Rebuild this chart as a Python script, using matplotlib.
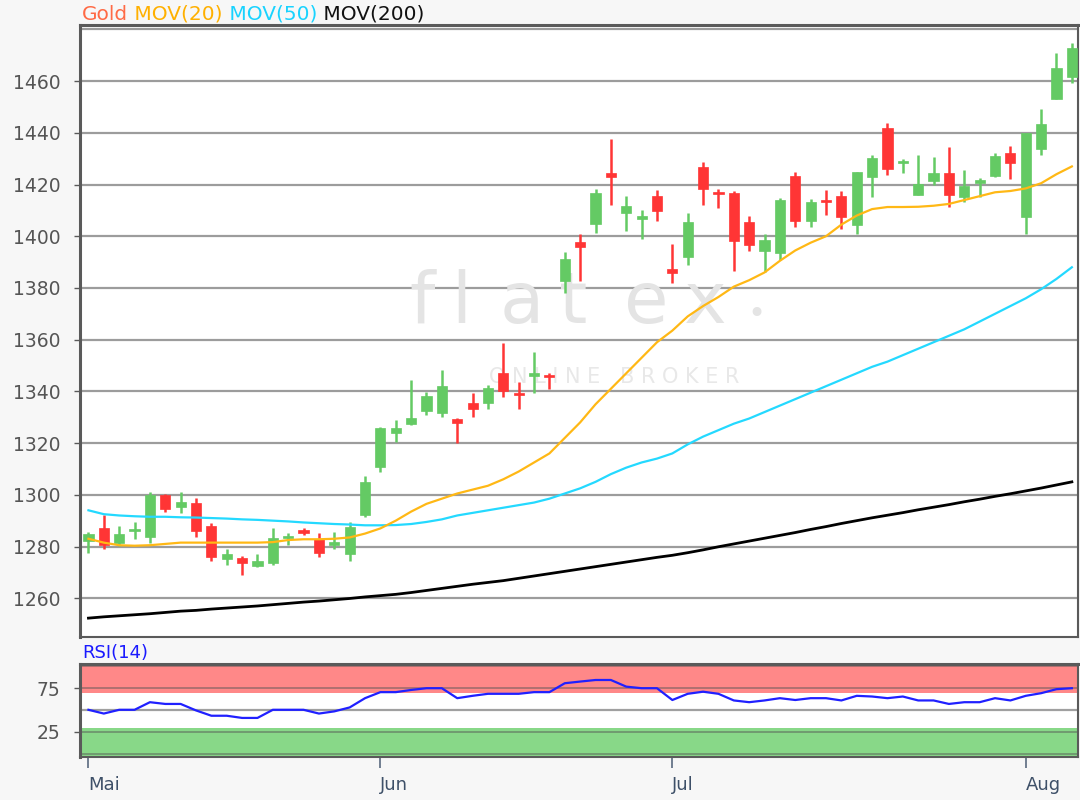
import matplotlib
matplotlib.use("Agg")
import matplotlib.pyplot as plt
import numpy as np

# ---------------- data ----------------
opens = [1282.1, 1287.1, 1281.3, 1285.9, 1283.6, 1299.8, 1295.2, 1296.7, 1287.9, 1275.1,
         1275.5, 1272.4, 1273.5, 1283.2, 1286.3, 1282.8, 1280.5, 1277.0, 1292.1, 1310.7,
         1323.8, 1327.3, 1332.3, 1331.6, 1329.2, 1335.4, 1335.4, 1347.0, 1339.3, 1345.9,
         1346.3, 1382.6, 1397.7, 1404.7, 1424.4, 1408.9, 1406.6, 1415.5, 1387.3, 1391.9,
         1426.7, 1417.0, 1416.7, 1405.5, 1394.2, 1393.5, 1423.2, 1405.8, 1413.8, 1415.5,
         1404.3, 1422.9, 1441.8, 1428.3, 1415.9, 1421.3, 1424.4, 1415.1, 1420.5, 1423.2,
         1432.1, 1407.4, 1433.7, 1453.0, 1461.5]
highs = [1285.5, 1292.1, 1287.9, 1289.4, 1301.0, 1300.2, 1301.0, 1298.7, 1289.0, 1279.0,
         1276.2, 1277.0, 1287.1, 1285.1, 1287.1, 1285.1, 1285.5, 1289.4, 1307.2, 1326.2,
         1328.9, 1344.3, 1339.7, 1348.2, 1329.6, 1339.3, 1342.4, 1358.6, 1343.6, 1355.2,
         1347.0, 1393.8, 1400.8, 1418.2, 1437.6, 1415.5, 1410.0, 1417.8, 1397.0, 1408.9,
         1428.7, 1418.2, 1417.4, 1407.8, 1400.8, 1414.7, 1424.8, 1414.4, 1417.8, 1417.4,
         1425.0, 1431.4, 1443.8, 1429.8, 1431.4, 1430.6, 1434.5, 1425.6, 1422.5, 1432.1,
         1434.9, 1440.0, 1449.2, 1470.8, 1474.7]
lows = [1277.4, 1279.0, 1280.2, 1282.8, 1281.3, 1293.3, 1292.9, 1283.6, 1274.3, 1272.8,
        1268.9, 1272.0, 1272.8, 1280.5, 1284.4, 1275.9, 1279.0, 1274.3, 1291.3, 1308.7,
        1320.3, 1326.9, 1330.8, 1330.0, 1320.0, 1330.0, 1333.1, 1337.8, 1333.1, 1339.3,
        1340.9, 1378.0, 1382.6, 1401.2, 1412.0, 1402.0, 1398.9, 1405.8, 1381.9, 1388.8,
        1412.0, 1410.9, 1386.5, 1394.2, 1386.1, 1390.8, 1403.5, 1403.5, 1408.2, 1402.7,
        1400.8, 1415.1, 1423.6, 1424.4, 1415.9, 1419.8, 1411.3, 1413.2, 1415.1, 1422.9,
        1422.1, 1400.8, 1431.4, 1453.0, 1459.2]
closes = [1284.8, 1280.5, 1284.8, 1286.6, 1299.8, 1294.4, 1297.1, 1285.9, 1275.9, 1277.0,
          1273.5, 1274.3, 1283.2, 1284.0, 1285.1, 1277.4, 1281.7, 1287.5, 1304.9, 1325.8,
          1325.8, 1329.6, 1338.1, 1342.0, 1327.7, 1333.1, 1341.2, 1340.0, 1338.5, 1347.0,
          1345.5, 1391.1, 1395.8, 1416.7, 1422.9, 1411.6, 1407.8, 1409.7, 1385.7, 1405.5,
          1418.2, 1416.3, 1398.1, 1396.6, 1398.5, 1414.0, 1405.8, 1413.2, 1413.2, 1407.4,
          1424.8, 1430.2, 1426.0, 1428.9, 1420.2, 1424.4, 1415.9, 1419.4, 1421.7, 1431.0,
          1428.3, 1439.9, 1443.4, 1465.0, 1472.8]

mov20 = [1283.0, 1281.5, 1280.5, 1280.3, 1280.5, 1281.0, 1281.5, 1281.5, 1281.5, 1281.5,
         1281.5, 1281.5, 1281.7, 1282.5, 1282.8, 1282.8, 1283.0, 1283.5, 1285.0, 1287.0,
         1290.0, 1293.5, 1296.5, 1298.5, 1300.5, 1302.0, 1303.5, 1306.0, 1309.0, 1312.5,
         1316.0, 1322.0, 1328.0, 1335.0, 1341.0, 1347.0, 1353.0, 1359.0, 1363.5, 1369.0,
         1373.0, 1376.5, 1380.5, 1383.0, 1386.0, 1390.5, 1394.5, 1397.5, 1400.0, 1404.5,
         1408.0, 1410.5, 1411.3, 1411.3, 1411.4, 1411.8, 1412.5, 1414.0, 1415.5, 1417.0,
         1417.5, 1418.5, 1420.5, 1424.0, 1427.0]
mov50 = [1294.0, 1292.5, 1292.0, 1291.7, 1291.5, 1291.5, 1291.3, 1291.2, 1291.0, 1290.8,
         1290.5, 1290.3, 1290.0, 1289.7, 1289.3, 1289.0, 1288.7, 1288.5, 1288.2, 1288.2,
         1288.3, 1288.7, 1289.5, 1290.5, 1292.0, 1293.0, 1294.0, 1295.0, 1296.0, 1297.0,
         1298.5, 1300.5, 1302.5, 1305.0, 1308.0, 1310.5, 1312.5, 1314.0, 1316.0, 1319.5,
         1322.5, 1325.0, 1327.5, 1329.5, 1332.0, 1334.5, 1337.0, 1339.5, 1342.0, 1344.5,
         1347.0, 1349.5, 1351.5, 1354.0, 1356.5, 1359.0, 1361.5, 1364.0, 1367.0, 1370.0,
         1373.0, 1376.0, 1379.5, 1383.5, 1388.0]
mov200 = [1252.3, 1252.8, 1253.2, 1253.6, 1254.0, 1254.5, 1255.0, 1255.3, 1255.8, 1256.2,
          1256.6, 1257.0, 1257.5, 1258.0, 1258.5, 1258.9, 1259.4, 1259.9, 1260.5, 1261.0,
          1261.5, 1262.2, 1263.0, 1263.8, 1264.6, 1265.4, 1266.1, 1266.8, 1267.7, 1268.6,
          1269.5, 1270.4, 1271.3, 1272.2, 1273.1, 1274.0, 1274.9, 1275.8, 1276.6, 1277.6,
          1278.7, 1279.9, 1281.0, 1282.1, 1283.2, 1284.3, 1285.4, 1286.6, 1287.7, 1288.9,
          1290.0, 1291.1, 1292.1, 1293.1, 1294.2, 1295.2, 1296.2, 1297.3, 1298.3, 1299.4,
          1300.4, 1301.5, 1302.6, 1303.8, 1305.0]
rsi14 = [50.3, 46.0, 50.3, 50.3, 59.0, 57.0, 57.0, 49.6, 43.5, 43.5,
         41.0, 41.0, 50.3, 50.3, 50.3, 46.0, 48.5, 53.0, 63.6, 70.5,
         70.5, 73.0, 75.0, 75.0, 63.6, 66.3, 68.6, 68.6, 68.6, 70.5,
         70.5, 80.7, 82.6, 84.4, 84.4, 76.8, 75.0, 75.0, 61.5, 68.6,
         71.0, 68.6, 61.0, 59.0, 61.0, 63.6, 61.5, 63.6, 63.6, 61.0,
         66.3, 65.5, 63.6, 65.5, 61.0, 61.0, 57.0, 59.0, 59.0, 63.6,
         61.0, 66.3, 69.3, 73.9, 75.0]

month_labels = ["Mai", "Jun", "Jul", "Aug"]
month_pos = [0, 19, 38, 61]
price_ticks = [1260, 1280, 1300, 1320, 1340, 1360, 1380, 1400, 1420, 1440, 1460]
price_grid = price_ticks + [1480]
rsi_ticks = [25, 75]

# ---------------- style ----------------
BG = "#F7F7F7"
GREEN = "#64CA64"
RED = "#FF3535"
GRID = "#9C9C9C"
SPINE = "#5A5A5A"
TICKTXT = "#555555"
FONT = ["DejaVu Sans"]

fig = plt.figure(figsize=(10.8, 8.0), dpi=100, facecolor=BG)
ax = fig.add_axes([80 / 1080, 1 - 637 / 800, 998 / 1080, 612 / 800])
ax2 = fig.add_axes([80 / 1080, 1 - 757 / 800, 998 / 1080, 93 / 800])

x = np.arange(len(closes))
o = np.array(opens); c = np.array(closes); h = np.array(highs); l = np.array(lows)
up = c >= o
cols = np.where(up, GREEN, RED)

ax.set_facecolor("white")
for yv in price_grid:
    ax.axhline(yv, color=GRID, lw=1.6, zorder=1)

# watermark
wm_letters = ["f", "l", "a", "t", "e", "x"]
wm_x = [0.330, 0.372, 0.420, 0.480, 0.545, 0.605]
for ch, xx in zip(wm_letters, wm_x):
    ax.text(xx, 0.545, ch, transform=ax.transAxes, fontsize=52, color="#E4E4E4",
            ha="left", va="center", family=FONT, zorder=1.5)
ax.text(0.678, 0.527, "\u2022", transform=ax.transAxes, fontsize=22, color="#E4E4E4",
        ha="center", va="center", zorder=1.5)
ax.text(0.535, 0.425, "O N L I N E   B R O K E R", transform=ax.transAxes, fontsize=15,
        color="#E8E8E8", ha="center", va="center", family=FONT, zorder=1.5)

# candles
ax.vlines(x, l, h, colors=cols, lw=1.8, zorder=3)
body_h = np.maximum(np.abs(c - o), 0.7)
ax.bar(x, body_h, bottom=np.minimum(o, c), width=0.66, color=cols, edgecolor=cols,
       lw=0.5, zorder=4)

ax.plot(x, mov200, color="black", lw=2.0, zorder=5)
ax.plot(x, mov50, color="#24D9FF", lw=1.6, zorder=5)
ax.plot(x, mov20, color="#FFB815", lw=1.6, zorder=5)

ax.set_xlim(-0.55, 64.4)
ax.set_ylim(1245, 1481.7)
ax.set_yticks(price_ticks)
ax.set_yticklabels([str(v) for v in price_ticks], family=FONT, fontsize=13.5, color=TICKTXT)
ax.set_xticks([])
ax.tick_params(axis="y", length=4, width=1, color=SPINE, pad=10)
for s in ax.spines.values():
    s.set_color(SPINE)
    s.set_linewidth(1.5)
ax.spines["left"].set_linewidth(2.2)
ax.spines["top"].set_linewidth(2.2)

# title
parts = [("Gold", "#FF6A45"), (" MOV(20)", "#FFB000"), (" MOV(50)", "#19D3FF"), (" MOV(200)", "#111111")]
t = None
for txt, col in parts:
    if t is None:
        t = fig.text(82 / 1080, 1 - 14 / 800, txt, color=col, fontsize=14.5, family=FONT,
                     ha="left", va="center")
    else:
        t = ax.annotate(txt, xycoords=t, xy=(1, 0), va="bottom", ha="left",
                        color=col, fontsize=14.5, family=FONT, annotation_clip=False)

# ---------------- RSI panel ----------------
ax2.set_facecolor("white")
ax2.set_xlim(-0.55, 64.4)
ax2.set_ylim(-3.7, 102.7)
ax2.axhspan(70, 102.7, color="#FF8888", zorder=1, lw=0)
ax2.axhspan(-3.7, 30, color="#88D888", zorder=1, lw=0)
for yv in [0, 25, 75, 100]:
    ax2.axhline(yv, color="#555555", lw=1.2, alpha=0.55, zorder=2)
ax2.axhline(50, color="#A0A0A0", lw=1.6, zorder=2)
ax2.plot(x, rsi14, color="#2020FF", lw=1.6, zorder=4)
ax2.set_yticks(rsi_ticks)
ax2.set_yticklabels([str(v) for v in rsi_ticks], family=FONT, fontsize=13.5, color=TICKTXT)
ax2.tick_params(axis="y", length=4, width=1, color=SPINE, pad=10)
ax2.set_xticks(month_pos)
ax2.set_xticklabels(month_labels, family=FONT, fontsize=13, color="#3E5068", ha="left")
ax2.tick_params(axis="x", length=8, width=1.2, color="#5A6A80", pad=6)
for s in ax2.spines.values():
    s.set_color(SPINE)
    s.set_linewidth(1.5)
ax2.spines["left"].set_linewidth(2.2)
ax2.spines["top"].set_linewidth(2.2)
fig.text(82 / 1080, 1 - 653 / 800, "RSI(14)", color="#1A1AFF", fontsize=13, family=FONT,
         ha="left", va="center")

fig.savefig("out.png", dpi=100, facecolor=BG)
